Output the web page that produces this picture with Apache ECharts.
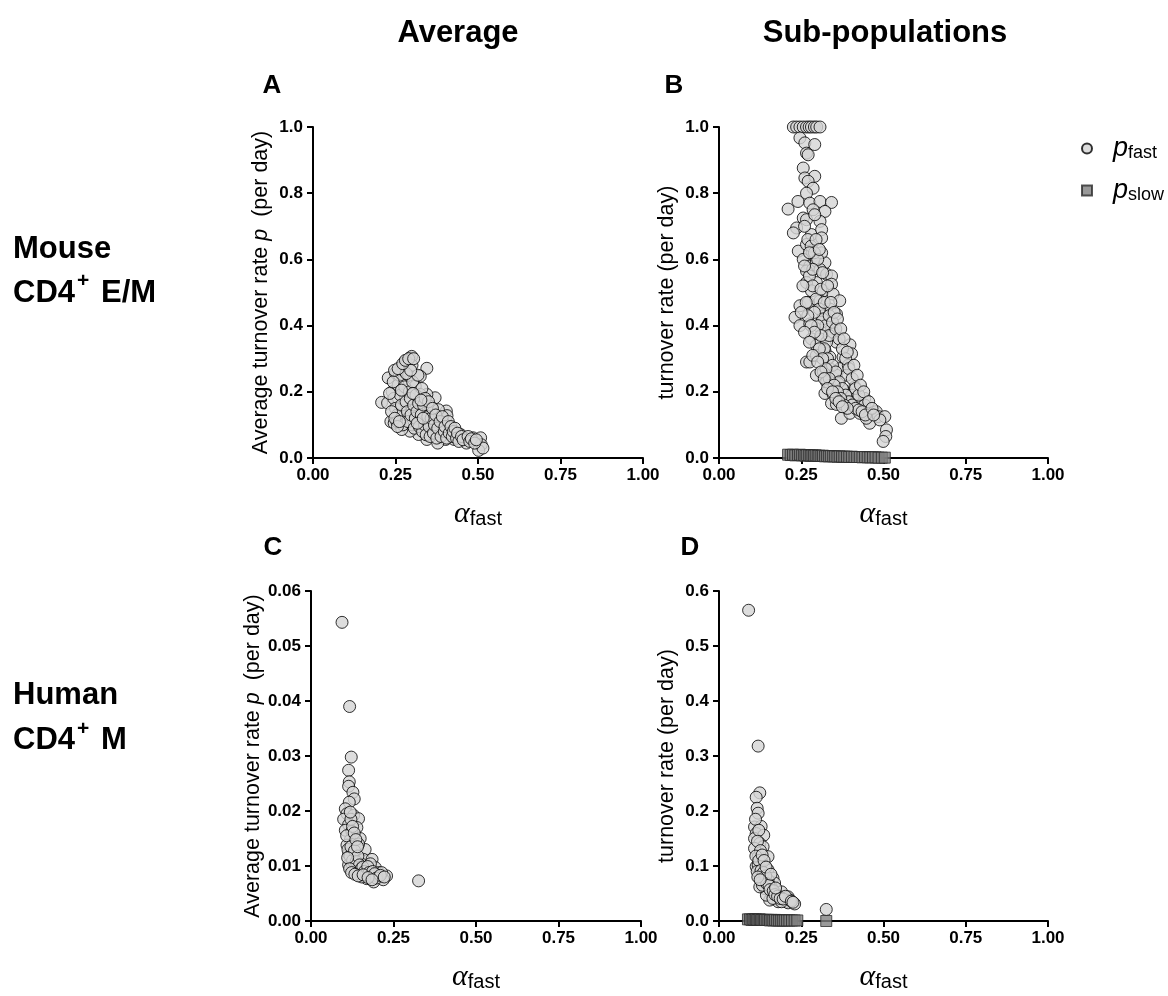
<!DOCTYPE html>
<html>
<head>
<meta charset="utf-8">
<script src="https://cdn.jsdelivr.net/npm/echarts@6/dist/echarts.min.js"></script>
<style>
html, body { margin: 0; padding: 0; background: #fff; }
#main { width: 1168px; height: 996px; }
</style>
</head>
<body>
<div id="main"></div>
<script>
// panel A: mouse, average turnover vs alpha_fast
var mouseAvg = [
  [0.208,0.168],[0.228,0.242],[0.226,0.166],[0.236,0.110],[0.246,0.105],[0.250,0.257],[0.269,0.277],[0.294,0.302],
  [0.299,0.307],[0.345,0.271],[0.325,0.247],[0.310,0.217],[0.370,0.182],[0.404,0.142],[0.406,0.128],[0.380,0.116],
  [0.402,0.056],[0.378,0.045],[0.345,0.056],[0.320,0.071],[0.294,0.081],[0.269,0.086],[0.254,0.110],[0.447,0.071],
  [0.465,0.045],[0.485,0.061],[0.508,0.061],[0.510,0.040],[0.502,0.023],[0.515,0.030],[0.460,0.060],[0.428,0.056],
  [0.420,0.086],[0.361,0.084],[0.341,0.110],[0.321,0.112],[0.300,0.100],[0.274,0.126],[0.280,0.197],[0.274,0.237],
  [0.264,0.146],[0.300,0.152],[0.341,0.136],[0.356,0.136],[0.345,0.192],[0.325,0.192],[0.356,0.156],[0.380,0.146],
  [0.395,0.106],[0.383,0.081],[0.360,0.110],[0.240,0.200],[0.245,0.180],[0.250,0.150],[0.255,0.130],[0.258,0.220],
  [0.262,0.250],[0.265,0.190],[0.268,0.160],[0.272,0.100],[0.275,0.265],[0.278,0.215],[0.282,0.170],[0.285,0.290],
  [0.286,0.140],[0.288,0.110],[0.290,0.250],[0.292,0.200],[0.295,0.180],[0.297,0.130],[0.300,0.280],[0.302,0.230],
  [0.305,0.160],[0.307,0.090],[0.310,0.120],[0.312,0.190],[0.315,0.140],[0.318,0.250],[0.320,0.165],[0.322,0.095],
  [0.328,0.130],[0.330,0.210],[0.332,0.080],[0.335,0.160],[0.338,0.100],[0.340,0.180],[0.343,0.070],[0.348,0.125],
  [0.350,0.170],[0.352,0.095],[0.355,0.065],[0.358,0.120],[0.362,0.150],[0.365,0.075],[0.368,0.100],[0.372,0.130],
  [0.375,0.060],[0.378,0.090],[0.385,0.110],[0.388,0.065],[0.392,0.125],[0.398,0.080],[0.400,0.095],[0.405,0.060],
  [0.410,0.110],[0.413,0.075],[0.418,0.095],[0.422,0.065],[0.425,0.080],[0.430,0.090],[0.435,0.060],[0.438,0.075],
  [0.442,0.050],[0.450,0.065],[0.455,0.055],[0.470,0.065],[0.475,0.050],[0.480,0.058],[0.490,0.045],[0.495,0.055],
  [0.232,0.195],[0.238,0.140],[0.243,0.230],[0.248,0.120],[0.256,0.095],[0.262,0.110],[0.268,0.205],[0.283,0.255],
  [0.296,0.265],[0.303,0.195],[0.316,0.105],[0.327,0.175],[0.334,0.120],[0.247,0.265],[0.258,0.270],[0.272,0.285],
  [0.280,0.295],[0.290,0.300],[0.305,0.300]
];

// panel B: mouse, sub-populations
var mouseFast = [
  [0.226,1],[0.236,1],[0.246,1],[0.256,1],[0.266,1],[0.274,1],[0.281,1],[0.290,1],[0.297,1],[0.307,1],
  [0.246,0.967],[0.261,0.952],[0.266,0.921],[0.271,0.916],[0.291,0.947],[0.256,0.876],[0.261,0.846],[0.291,0.851],
  [0.271,0.836],[0.286,0.815],[0.210,0.752],[0.240,0.775],[0.266,0.800],[0.276,0.770],[0.307,0.775],[0.342,0.772],
  [0.322,0.745],[0.286,0.750],[0.256,0.725],[0.236,0.695],[0.226,0.680],[0.266,0.720],[0.281,0.675],[0.307,0.715],
  [0.312,0.690],[0.312,0.665],[0.291,0.735],[0.241,0.625],[0.266,0.645],[0.286,0.610],[0.283,0.620],[0.256,0.600],
  [0.276,0.580],[0.296,0.595],[0.322,0.590],[0.312,0.620],[0.266,0.565],[0.307,0.570],[0.327,0.555],[0.342,0.550],
  [0.296,0.530],[0.266,0.530],[0.281,0.505],[0.317,0.505],[0.342,0.525],[0.347,0.495],[0.367,0.475],[0.246,0.460],
  [0.271,0.470],[0.307,0.475],[0.337,0.450],[0.357,0.435],[0.231,0.425],[0.246,0.400],[0.276,0.405],[0.317,0.430],
  [0.312,0.410],[0.342,0.390],[0.347,0.380],[0.357,0.350],[0.281,0.360],[0.307,0.360],[0.296,0.340],[0.327,0.350],
  [0.398,0.342],[0.403,0.315],[0.377,0.305],[0.322,0.325],[0.266,0.290],[0.276,0.290],[0.296,0.310],[0.337,0.305],
  [0.367,0.270],[0.393,0.280],[0.296,0.250],[0.317,0.260],[0.337,0.270],[0.357,0.250],[0.388,0.250],[0.413,0.215],
  [0.327,0.230],[0.362,0.225],[0.337,0.220],[0.322,0.195],[0.347,0.192],[0.377,0.205],[0.403,0.190],[0.342,0.165],
  [0.357,0.162],[0.388,0.170],[0.423,0.180],[0.443,0.180],[0.428,0.160],[0.372,0.120],[0.398,0.135],[0.428,0.135],
  [0.443,0.160],[0.458,0.130],[0.478,0.140],[0.484,0.125],[0.504,0.125],[0.458,0.105],[0.509,0.085],[0.507,0.065],
  [0.499,0.050],[0.489,0.115],[0.448,0.120],
  [0.260,0.700],[0.270,0.660],[0.280,0.640],[0.290,0.620],[0.300,0.600],[0.275,0.550],[0.285,0.520],[0.295,0.480],
  [0.305,0.450],[0.315,0.420],[0.325,0.400],[0.335,0.370],[0.290,0.440],[0.300,0.400],[0.310,0.370],[0.320,0.330],
  [0.330,0.300],[0.345,0.280],[0.355,0.260],[0.365,0.230],[0.375,0.210],[0.385,0.190],[0.395,0.170],[0.405,0.160],
  [0.415,0.150],[0.425,0.145],[0.435,0.140],[0.445,0.130],[0.265,0.470],[0.270,0.430],[0.280,0.400],[0.290,0.380],
  [0.305,0.330],[0.315,0.300],[0.325,0.270],[0.335,0.240],[0.350,0.220],[0.360,0.200],[0.370,0.180],[0.380,0.160],
  [0.390,0.150],[0.255,0.520],[0.285,0.570],[0.310,0.510],[0.320,0.470],[0.335,0.430],[0.345,0.410],[0.355,0.390],
  [0.365,0.360],[0.375,0.330],[0.385,0.300],[0.395,0.270],[0.405,0.240],[0.415,0.210],[0.425,0.190],[0.260,0.580],
  [0.275,0.620],[0.295,0.660],[0.305,0.630],[0.315,0.560],[0.330,0.520],[0.340,0.470],[0.350,0.440],[0.360,0.420],
  [0.370,0.390],[0.380,0.360],[0.390,0.320],[0.410,0.280],[0.420,0.250],[0.430,0.220],[0.440,0.200],[0.455,0.170],
  [0.465,0.150],[0.470,0.130],[0.250,0.440],[0.260,0.380],[0.275,0.350],[0.285,0.310],[0.300,0.290],[0.310,0.260],
  [0.320,0.240],[0.330,0.210],[0.345,0.200],[0.355,0.180],[0.365,0.170],[0.375,0.155]
];
var mouseSlow = [
  [0.210,0.010],[0.218,0.009],[0.225,0.010],[0.232,0.008],[0.240,0.009],[0.246,0.010],[0.252,0.008],[0.258,0.009],
  [0.263,0.007],[0.268,0.009],[0.274,0.008],[0.279,0.007],[0.284,0.008],[0.289,0.007],[0.294,0.008],[0.300,0.006],
  [0.305,0.007],[0.311,0.006],[0.316,0.007],[0.322,0.005],[0.328,0.006],[0.334,0.005],[0.340,0.006],[0.347,0.005],
  [0.353,0.005],[0.360,0.004],[0.367,0.005],[0.374,0.004],[0.381,0.004],[0.389,0.004],[0.396,0.003],[0.404,0.004],
  [0.412,0.003],[0.420,0.003],[0.428,0.003],[0.436,0.002],[0.444,0.003],[0.452,0.002],[0.460,0.002],[0.468,0.002],
  [0.476,0.002],[0.485,0.001],[0.495,0.001],[0.504,0.001]
];

// panel C: human, average
var humanAvg = [
  [0.094,0.0543],[0.117,0.0390],[0.122,0.0298],[0.114,0.0274],[0.116,0.0253],[0.114,0.0245],[0.127,0.0234],[0.131,0.0222],
  [0.116,0.0216],[0.104,0.0204],[0.109,0.0195],[0.129,0.0192],[0.144,0.0186],[0.099,0.0185],[0.114,0.0175],[0.139,0.0170],
  [0.104,0.0165],[0.134,0.0150],[0.149,0.0150],[0.119,0.0147],[0.109,0.0138],[0.164,0.0130],[0.134,0.0115],[0.114,0.0122],
  [0.159,0.0112],[0.185,0.0112],[0.114,0.0102],[0.129,0.0094],[0.149,0.0088],[0.169,0.0094],[0.195,0.0097],[0.205,0.0088],
  [0.229,0.0082],[0.205,0.0079],[0.190,0.0071],[0.169,0.0077],[0.154,0.0080],[0.219,0.0075],[0.326,0.0073],[0.139,0.0098],
  [0.154,0.0103],[0.124,0.0104],[0.180,0.0104],[0.214,0.0088],[0.200,0.0082],[0.129,0.0126],[0.124,0.0163],[0.144,0.0140],
  [0.108,0.0155],[0.112,0.0130],[0.118,0.0118],[0.121,0.0135],[0.126,0.0110],[0.132,0.0128],[0.137,0.0108],[0.142,0.0118],
  [0.147,0.0102],[0.152,0.0095],[0.157,0.0098],[0.162,0.0090],[0.167,0.0085],[0.172,0.0099],[0.176,0.0088],[0.182,0.0082],
  [0.187,0.0090],[0.193,0.0086],[0.198,0.0078],[0.210,0.0083],[0.222,0.0080],[0.121,0.0185],[0.126,0.0172],[0.131,0.0160],
  [0.136,0.0148],[0.141,0.0135],[0.119,0.0198],[0.111,0.0115],[0.117,0.0095],[0.123,0.0088],[0.133,0.0085],[0.143,0.0082],
  [0.158,0.0084],[0.173,0.0079],[0.185,0.0075]
];

// panel D: human, sub-populations
var humanFast = [
  [0.090,0.565],[0.119,0.318],[0.124,0.233],[0.113,0.225],[0.116,0.205],[0.119,0.196],[0.108,0.171],[0.128,0.172],
  [0.113,0.159],[0.136,0.156],[0.108,0.150],[0.124,0.141],[0.134,0.135],[0.108,0.132],[0.149,0.117],[0.119,0.117],
  [0.129,0.108],[0.113,0.099],[0.139,0.099],[0.149,0.093],[0.124,0.087],[0.139,0.078],[0.164,0.078],[0.169,0.069],
  [0.129,0.071],[0.159,0.062],[0.139,0.059],[0.159,0.050],[0.175,0.050],[0.190,0.053],[0.185,0.044],[0.200,0.041],
  [0.210,0.044],[0.205,0.035],[0.180,0.035],[0.154,0.038],[0.144,0.047],[0.210,0.033],[0.230,0.031],[0.216,0.038],
  [0.164,0.041],[0.190,0.035],[0.326,0.021],[0.124,0.062],[0.149,0.075],[0.119,0.102],[0.111,0.185],[0.121,0.165],
  [0.117,0.145],[0.126,0.128],[0.112,0.118],[0.121,0.110],[0.131,0.120],[0.116,0.090],[0.128,0.092],[0.135,0.088],
  [0.142,0.082],[0.132,0.065],[0.145,0.068],[0.152,0.065],[0.155,0.057],[0.165,0.055],[0.170,0.048],[0.178,0.045],
  [0.186,0.041],[0.195,0.040],[0.202,0.045],[0.220,0.036],[0.225,0.034],[0.137,0.110],[0.143,0.098],[0.158,0.085],
  [0.172,0.060],[0.118,0.080],[0.125,0.075]
];
var humanSlow = [
  [0.088,0.003],[0.094,0.003],[0.099,0.002],[0.104,0.003],[0.108,0.002],[0.112,0.003],[0.116,0.002],[0.120,0.002],
  [0.124,0.003],[0.128,0.002],[0.132,0.002],[0.136,0.002],[0.140,0.002],[0.145,0.002],[0.150,0.002],[0.155,0.001],
  [0.160,0.002],[0.165,0.001],[0.170,0.002],[0.176,0.001],[0.182,0.001],[0.188,0.001],[0.194,0.001],[0.200,0.001],
  [0.207,0.001],[0.214,0.001],[0.222,0.001],[0.230,0.001],[0.238,0.001],[0.326,0.000]
];

var xTicks = [0, 1, 0.25];          // min, max, interval for every x axis
var yRanges = [[0, 1, 0.2, 1], [0, 1, 0.2, 1], [0, 0.06, 0.01, 2], [0, 0.6, 0.1, 1]];  // min, max, interval, decimals

var FONT = 'Liberation Sans';
var circleStyle = { color: '#d4d4d4', borderColor: '#000', borderWidth: 1 };
var squareStyle = { color: '#808080', borderColor: '#2a2a2a', borderWidth: 1 };

var axisLine = { show: true, lineStyle: { color: '#000', width: 2 } };
var axisTick = { show: true, inside: false, length: 6, lineStyle: { color: '#000', width: 2 } };

function xAxis(i) {
  return {
    gridIndex: i, type: 'value',
    min: xTicks[0], max: xTicks[1], interval: xTicks[2],
    name: '{a|α}{s|fast}', nameLocation: 'middle', nameGap: 41,
    nameTextStyle: {
      rich: {
        a: { fontFamily: 'Liberation Serif', fontStyle: 'italic', fontSize: 30, lineHeight: 30, color: '#000', verticalAlign: 'top' },
        s: { fontFamily: FONT, fontSize: 20, lineHeight: 20, color: '#000', verticalAlign: 'bottom', padding: [12, 0, 0, 0] }
      }
    },
    axisLine: axisLine, axisTick: axisTick,
    axisLabel: { color: '#000', fontFamily: FONT, fontWeight: 'bold', fontSize: 17, margin: 9,
      formatter: function (v) { return v.toFixed(2); } },
    splitLine: { show: false }
  };
}

function yAxis(i, avg) {
  var r = yRanges[i];
  return {
    gridIndex: i, type: 'value',
    min: r[0], max: r[1], interval: r[2],
    name: avg ? '{n|Average turnover rate }{i|p}{n|  (per day)}' : '{n|turnover rate (per day)}',
    nameLocation: 'middle', nameGap: 41, nameRotate: 90,
    nameTextStyle: {
      rich: {
        n: { fontFamily: FONT, fontSize: 21.5, color: '#000' },
        i: { fontFamily: FONT, fontSize: 21.5, fontStyle: 'italic', color: '#000' }
      }
    },
    axisLine: axisLine, axisTick: axisTick,
    axisLabel: { color: '#000', fontFamily: FONT, fontWeight: 'bold', fontSize: 17, margin: 10,
      formatter: function (v) { return v.toFixed(r[3]); } },
    splitLine: { show: false }
  };
}

function scatter(name, xi, data, square) {
  return {
    name: name, type: 'scatter', xAxisIndex: xi, yAxisIndex: xi,
    symbol: square ? 'rect' : 'circle', symbolSize: square ? 11 : 12,
    itemStyle: square ? squareStyle : circleStyle,
    clip: false, silent: true,
    data: data
  };
}

function label(text, x, y, size, align) {
  return {
    type: 'text', x: x, y: y,
    style: {
      text: text, fontFamily: FONT, fontWeight: 'bold', fontSize: size, fill: '#000',
      textAlign: align || 'center', textVerticalAlign: 'middle'
    }
  };
}

var chart = echarts.init(document.getElementById('main'));
var option = {
  animation: false,
  backgroundColor: '#fff',
  grid: [
    { left: 313, top: 127, width: 330, height: 331 },
    { left: 719, top: 127, width: 329, height: 331 },
    { left: 311, top: 591, width: 330, height: 330 },
    { left: 719, top: 591, width: 329, height: 330 }
  ],
  xAxis: [xAxis(0), xAxis(1), xAxis(2), xAxis(3)],
  yAxis: [yAxis(0, true), yAxis(1, false), yAxis(2, true), yAxis(3, false)],
  legend: {
    data: ['pfast', 'pslow'],
    orient: 'vertical', left: 1081, top: 132, padding: 0,
    itemWidth: 10, itemHeight: 10, itemGap: 12,
    formatter: function (n) { return n === 'pfast' ? '{p|p}{s|fast}' : '{p|p}{s|slow}'; },
    textStyle: {
      rich: {
        p: { fontFamily: FONT, fontStyle: 'italic', fontSize: 27, lineHeight: 27, color: '#000', verticalAlign: 'top', padding: [0, 0, 0, 16] },
        s: { fontFamily: FONT, fontSize: 18, lineHeight: 18, color: '#000', verticalAlign: 'bottom', padding: [12, 0, 0, 0] }
      }
    }
  },
  graphic: [
    label('Average', 458, 33, 31),
    label('Sub-populations', 885, 33, 31),
    label('A', 272, 86, 26),
    label('B', 674, 86, 26),
    label('C', 273, 548, 26),
    label('D', 690, 548, 26),
    label('Mouse', 13, 249, 31, 'left'),
    label('CD4', 13, 293, 31, 'left'),
    label('+', 77, 281, 21, 'left'),
    label('E/M', 101, 293, 31, 'left'),
    label('Human', 13, 695, 31, 'left'),
    label('CD4', 13, 740, 31, 'left'),
    label('+', 77, 729, 21, 'left'),
    label('M', 101, 740, 31, 'left')
  ],
  series: [
    scatter('avgMouse', 0, mouseAvg, false),
    scatter('pfast', 1, mouseFast, false),
    scatter('pslow', 1, mouseSlow, true),
    scatter('avgHuman', 2, humanAvg, false),
    scatter('pfast', 3, humanFast, false),
    scatter('pslow', 3, humanSlow, true)
  ]
};
option && chart.setOption(option);
</script>
</body>
</html>
